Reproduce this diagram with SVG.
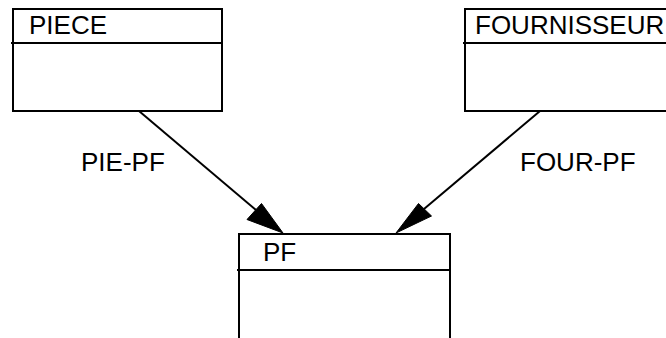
<svg xmlns="http://www.w3.org/2000/svg" width="666" height="338" viewBox="0 0 666 338">
<style>
.box{fill:#fff;stroke:#000;stroke-width:2}
.div{stroke:#000;stroke-width:2}
.t{font-family:"Liberation Sans",Arial,sans-serif;font-size:26px;fill:#000}
.ln{stroke:#000;stroke-width:2;fill:none}
.ah{fill:#000;stroke:#000;stroke-width:1}
</style>
<rect width="666" height="338" fill="#fff"/>
<g id="connectors">
<line class="ln" x1="139" y1="111" x2="256" y2="210"/>
<polygon class="ah" points="283,233 247,219.5 261.5,203.5"/>
<line class="ln" x1="540" y1="111" x2="424" y2="209"/>
<polygon class="ah" points="396,233 418.5,203.5 431.5,216"/>
<text class="t" x="81" y="171">PIE-PF</text>
<text class="t" x="520" y="171">FOUR-PF</text>
</g>
<g id="piece">
<rect class="box" x="13" y="9" width="209" height="102"/>
<line class="div" x1="11" y1="43" x2="222" y2="43"/>
<text class="t" x="29" y="34">PIECE</text>
</g>
<g id="fournisseur">
<rect class="box" x="465" y="9" width="220" height="102"/>
<line class="div" x1="463" y1="43" x2="685" y2="43"/>
<text class="t" x="475" y="34">FOURNISSEUR</text>
</g>
<g id="pf">
<rect class="box" x="239" y="234" width="211" height="120"/>
<line class="div" x1="237" y1="270" x2="450" y2="270"/>
<text class="t" x="263" y="261">PF</text>
</g>
</svg>
